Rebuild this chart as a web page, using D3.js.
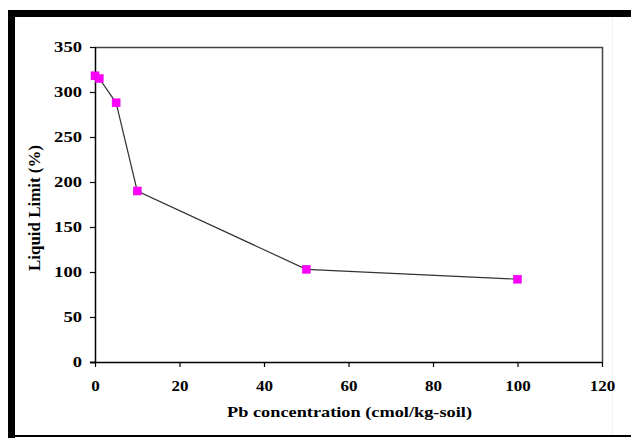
<!DOCTYPE html>
<html>
<head>
<meta charset="utf-8">
<script src="https://cdn.jsdelivr.net/npm/d3@7"></script>
<style>
  html, body { margin: 0; padding: 0; background: #fff; }
  svg { display: block; }
  text { font-family: "Liberation Serif", "DejaVu Serif", "Times New Roman", serif; font-weight: bold; fill: #000; }
</style>
</head>
<body>
<svg id="chart" width="631" height="438"></svg>
<script>
const pbConcentration = [0, 1, 5, 10, 50, 100];
const liquidLimit = [318, 315, 288, 190, 103, 92];
const xTicks = [0, 20, 40, 60, 80, 100, 120];
const yTicks = [0, 50, 100, 150, 200, 250, 300, 350];
const xTitle = "Pb concentration (cmol/kg-soil)";
const yTitle = "Liquid Limit (%)";

const svg = d3.select("#chart");
const W = 631, H = 438;
const plot = { left: 95, right: 602, top: 47, bottom: 362 };
const serif = '"Liberation Serif", "DejaVu Serif", serif';

// outer frame
svg.append("rect").attr("x", 0).attr("y", 0).attr("width", W).attr("height", H).attr("fill", "#fff");
svg.append("rect").attr("x", 8).attr("y", 10).attr("width", W - 8).attr("height", 7).attr("fill", "#000");
svg.append("rect").attr("x", 8).attr("y", 10).attr("width", 7).attr("height", H - 10).attr("fill", "#000");
svg.append("rect").attr("x", 8).attr("y", 435).attr("width", W - 8).attr("height", 2).attr("fill", "#000");
svg.append("line").attr("x1", 612.5).attr("x2", 612.5).attr("y1", 17).attr("y2", 435)
  .attr("stroke", "#f2f2f2").attr("stroke-width", 1);

const x = d3.scaleLinear().domain([0, 120]).range([plot.left, plot.right]);
const y = d3.scaleLinear().domain([0, 350]).range([plot.bottom, plot.top]);

// plot area border (top & right)
svg.append("path")
  .attr("d", `M${plot.left},${plot.top + 0.5}H${plot.right + 0.5}V${plot.bottom}`)
  .attr("fill", "none").attr("stroke", "#444").attr("stroke-width", 1.5);

// axes
const xAxis = d3.axisBottom(x).tickValues(xTicks).tickSize(5).tickPadding(13).tickFormat(d3.format("d"));
const yAxis = d3.axisLeft(y).tickValues(yTicks).tickSize(5).tickPadding(8).tickFormat(d3.format("d"));

const gx = svg.append("g").attr("transform", `translate(0,${plot.bottom})`).call(xAxis);
const gy = svg.append("g").attr("transform", `translate(${plot.left},0)`).call(yAxis);
[gx, gy].forEach(g => {
  g.attr("font-family", null).attr("font-size", null);
  g.select(".domain").attr("stroke", "#000").attr("stroke-width", 1.5);
  g.selectAll(".tick line").attr("stroke", "#000").attr("stroke-width", 1.2);
  g.selectAll(".tick text").style("font-family", serif)
    .style("font-weight", "bold").style("font-size", "15px").attr("fill", "#000");
});
gy.selectAll(".tick text").attr("textLength", d => String(d).length * 9.3).attr("lengthAdjust", "spacingAndGlyphs");
gx.selectAll(".tick text").attr("textLength", d => String(d).length * 8.5).attr("lengthAdjust", "spacingAndGlyphs");
gy.select(".domain").attr("d", `M${-5},${plot.bottom + 0.5}H0.5V${plot.top}`);
gx.select(".domain").attr("d", `M${plot.left - 5},0.5H${plot.right + 0.5}`);

// line
const pts = pbConcentration.map((v, i) => [v, liquidLimit[i]]);
svg.append("path")
  .datum(pts)
  .attr("d", d3.line().x(d => x(d[0])).y(d => y(d[1])))
  .attr("fill", "none").attr("stroke", "#333").attr("stroke-width", 1.2);

// markers
const ms = 8;
svg.selectAll("rect.marker").data(pts).enter().append("rect")
  .attr("class", "marker")
  .attr("x", d => x(d[0]) - ms / 2).attr("y", d => y(d[1]) - ms / 2)
  .attr("width", ms).attr("height", ms)
  .attr("fill", "#ff00ff").attr("stroke", "#e000e0").attr("stroke-width", 0.5);

// titles
svg.append("text").attr("x", (plot.left + plot.right) / 2 + 1).attr("y", 417)
  .attr("text-anchor", "middle").style("font-family", serif).style("font-size", "15px")
  .attr("textLength", 245).attr("lengthAdjust", "spacingAndGlyphs").text(xTitle);
svg.append("text").attr("transform", `translate(40,208) rotate(-90)`)
  .attr("text-anchor", "middle").style("font-family", serif).style("font-size", "16.5px")
  .attr("textLength", 126).attr("lengthAdjust", "spacingAndGlyphs").text(yTitle);
</script>
</body>
</html>
